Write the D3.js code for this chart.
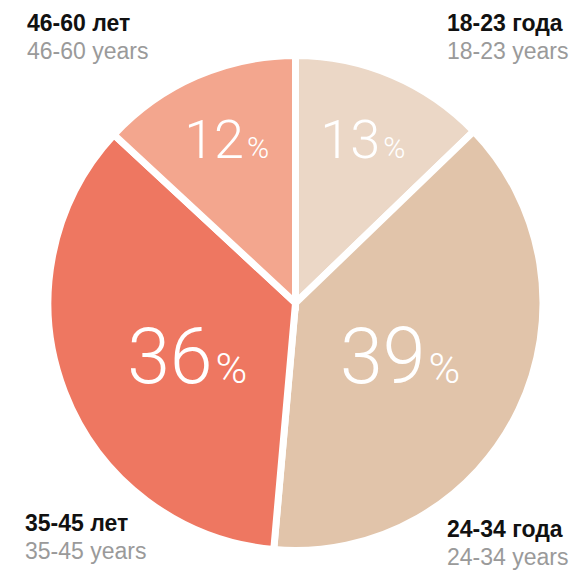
<!DOCTYPE html>
<html>
<head>
<meta charset="utf-8">
<script src="https://cdn.jsdelivr.net/npm/d3@7"></script>
<style>
  html, body { margin: 0; padding: 0; background: #fff; }
  svg { display: block; }
</style>
</head>
<body>
<svg id="chart" width="580" height="572"></svg>
<script>
// ---- data ----
const categories = ["18-23 года", "24-34 года", "35-45 лет", "46-60 лет"];
const categoriesEn = ["18-23 years", "24-34 years", "35-45 years", "46-60 years"];
const percentLabels = ["13", "39", "36", "12"];
// slice sizes (percent)
const shares = [12.8, 38.6, 35.5, 13.1];
const colors = ["#ebd7c6", "#e1c4aa", "#ee7761", "#f3a68e"];

// ---- layout ----
const cx = 295.5, cy = 303, R = 247.5;
const svg = d3.select("#chart");
const g = svg.append("g").attr("transform", `translate(${cx},${cy})`);

const pie = d3.pie().sort(null).value(d => d.v);
const arcs = pie(shares.map((v, i) => ({ v, i })));
const arc = d3.arc().innerRadius(0).outerRadius(R);

g.selectAll("path.slice").data(arcs).join("path")
  .attr("class", "slice")
  .attr("d", arc)
  .attr("fill", d => colors[d.data.i])
  .attr("stroke", "#fff")
  .attr("stroke-width", 7)
  .attr("stroke-linejoin", "miter");

// percentage labels
const numFont = "Roboto, 'Helvetica Neue', 'Liberation Sans', sans-serif";
arcs.forEach(d => {
  const big = d.data.v > 25;
  const r = big ? 116 : 172;
  const c = d3.arc().innerRadius(r).outerRadius(r).centroid(d);
  const nSize = big ? 77 : 54, pSize = big ? 43 : 30;
  const t = g.append("text")
    .attr("x", c[0]).attr("y", big ? 80 : -145)
    .attr("text-anchor", "middle")
    .attr("fill", "#fff")
    .attr("font-family", numFont)
    .attr("font-weight", 300);
  t.append("tspan").attr("font-size", nSize).text(percentLabels[d.data.i]);
  t.append("tspan").attr("font-size", pSize).attr("dx", 3).text("%");
});

// corner labels
const lblFont = "'Liberation Sans', Arial, sans-serif";
const corner = [
  { x: 447, y: 31 },   // 18-23
  { x: 447, y: 537 },  // 24-34
  { x: 25, y: 531 },   // 35-45
  { x: 27, y: 31 }     // 46-60
];
categories.forEach((c, i) => {
  svg.append("text")
    .attr("x", corner[i].x).attr("y", corner[i].y)
    .attr("font-family", lblFont).attr("font-weight", 700)
    .attr("font-size", 23).attr("fill", "#111")
    .text(c);
  svg.append("text")
    .attr("x", corner[i].x).attr("y", corner[i].y + 28)
    .attr("font-family", lblFont).attr("font-weight", 400)
    .attr("font-size", 23).attr("fill", "#9a9a9a")
    .text(categoriesEn[i]);
});
</script>
</body>
</html>
